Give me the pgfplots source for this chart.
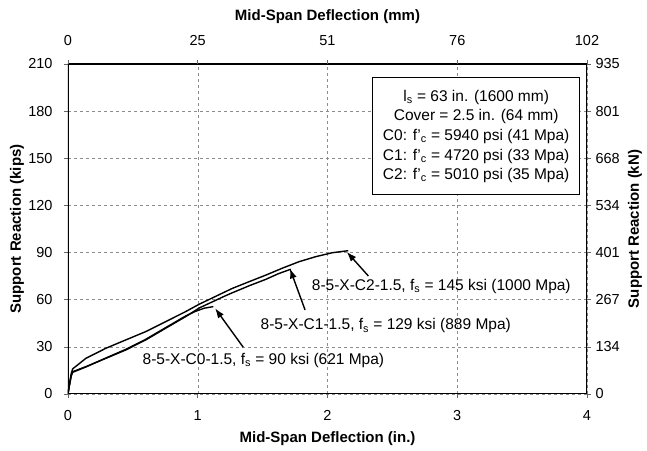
\documentclass[border=0pt]{standalone}
\usepackage{fontspec}
\setmainfont{Liberation Sans}
\usepackage{pgfplots}
\pgfplotsset{compat=1.18}
\usetikzlibrary{arrows.meta}

\begin{document}
\begin{tikzpicture}
\pgfplotsset{
 common/.style={
  scale only axis, width=519pt, height=330pt,
  xmin=0,xmax=4,ymin=0,ymax=210,
  xtick={0,1,2,3,4}, ytick={0,30,...,210},
  tick align=outside, major tick length=4pt,
  tick style={black!60, line width=0.6pt},
  /pgf/number format/assume math mode=true,
  tick label style={font=\fontsize{14.5}{16}\selectfont},
  label style={font=\bfseries\fontsize{15}{18}\selectfont},
 }
}
\begin{axis}[common, name=main,
  xtick pos=left, ytick pos=left,
  axis line style={draw=none},
  grid=major, grid style={dashed, black!45, line width=0.5pt},
  xticklabel style={yshift=-9pt},
  yticklabel style={xshift=-8pt},
  xlabel={Mid-Span Deflection (in.)}, ylabel={Support Reaction (kips)},
  xlabel style={at={([yshift=-45pt]axis description cs:0.5,0)}, anchor=center},
  ylabel style={at={([xshift=-51pt]axis description cs:0,0.5)}, anchor=center},
]
% C2
\addplot[black, line width=1.4pt] coordinates {
(0,0) (0.01,6) (0.025,13) (0.036,16) (0.138,22.7) (0.292,29.1) (0.445,34.4) (0.599,39.7) (0.752,46) (0.906,52.4) (1.013,57.2) (1.213,65.1) (1.269,67.3) (1.4,71.6) (1.526,75.7) (1.65,80) (1.781,84.2) (1.91,87.4) (2.037,89.9) (2.16,91.2)};
% C1
\addplot[black, line width=1.4pt] coordinates {
(0,0) (0.01,5) (0.025,12) (0.036,14.2) (0.138,17.4) (0.292,22.7) (0.445,28) (0.599,34.4) (0.752,41.8) (0.906,49.2) (1.013,54.8) (1.213,62.5) (1.269,64.5) (1.4,69) (1.526,73) (1.62,76.5) (1.717,79.4)};
% C0
\addplot[black, line width=1.4pt] coordinates {
(0,0) (0.01,5) (0.025,11.5) (0.036,13.8) (0.138,17.2) (0.292,22.9) (0.445,28.4) (0.599,34.8) (0.752,42.2) (0.906,49.6) (0.98,52.5) (1.05,54.6) (1.12,55.6)};

\draw[line width=2.4pt] (rel axis cs:0,0) rectangle (rel axis cs:1,1);

\node[draw, line width=1pt, fill=white, align=center, inner sep=0pt,
  minimum width=207pt, minimum height=117pt,
  font=\fontsize{15.5}{19.6}\selectfont] at (axis cs:3.146,163.9)
  {l\textsubscript{s} = 63 in. (1600 mm)\\
   Cover = 2.5 in. (64 mm)\\
   C0: f’\textsubscript{c} = 5940 psi (41 Mpa)\\
   C1: f’\textsubscript{c} = 4720 psi (33 Mpa)\\
   C2: f’\textsubscript{c} = 5010 psi (35 Mpa)};

\node[font=\fontsize{15.5}{18}\selectfont] at (axis cs:2.877,68.3) {8-5-X-C2-1.5, f\textsubscript{s} = 145 ksi (1000 Mpa)};
\node[font=\fontsize{15.5}{18}\selectfont] at (axis cs:2.449,43.3) {8-5-X-C1-1.5, f\textsubscript{s} = 129 ksi (889 Mpa)};
\node[font=\fontsize{15.5}{18}\selectfont] at (axis cs:1.506,21.2) {8-5-X-C0-1.5, f\textsubscript{s} = 90 ksi (621 Mpa)};

\draw[-{Latex[length=10pt,width=7pt]}, line width=1.4pt] (axis cs:2.315,75.1) -- (axis cs:2.148,90.5);
\draw[-{Latex[length=10pt,width=7pt]}, line width=1.4pt] (axis cs:1.827,53.5) -- (axis cs:1.71,79.9);
\draw[-{Latex[length=10pt,width=7pt]}, line width=1.4pt] (axis cs:1.351,29.7) -- (axis cs:1.133,54.6);
\end{axis}

\begin{axis}[common, axis x line*=top, axis y line*=right, axis line style={draw=none},
  xticklabels={0,25,51,76,102}, yticklabels={0,134,267,401,534,668,801,935},
  xticklabel style={yshift=11pt},
  yticklabel style={xshift=1pt},
  xlabel={Mid-Span Deflection (mm)}, ylabel={Support Reaction (kN)},
  xlabel style={at={([yshift=47.5pt]axis description cs:0.5,1)}, anchor=center},
  ylabel style={at={([xshift=48pt]axis description cs:1,0.5)}, anchor=center},
]
\end{axis}

\pgfresetboundingbox
\path ([shift={(-68pt,-57pt)}]main.south west) rectangle ([shift={(60pt,64pt)}]main.north east);
\end{tikzpicture}
\end{document}
